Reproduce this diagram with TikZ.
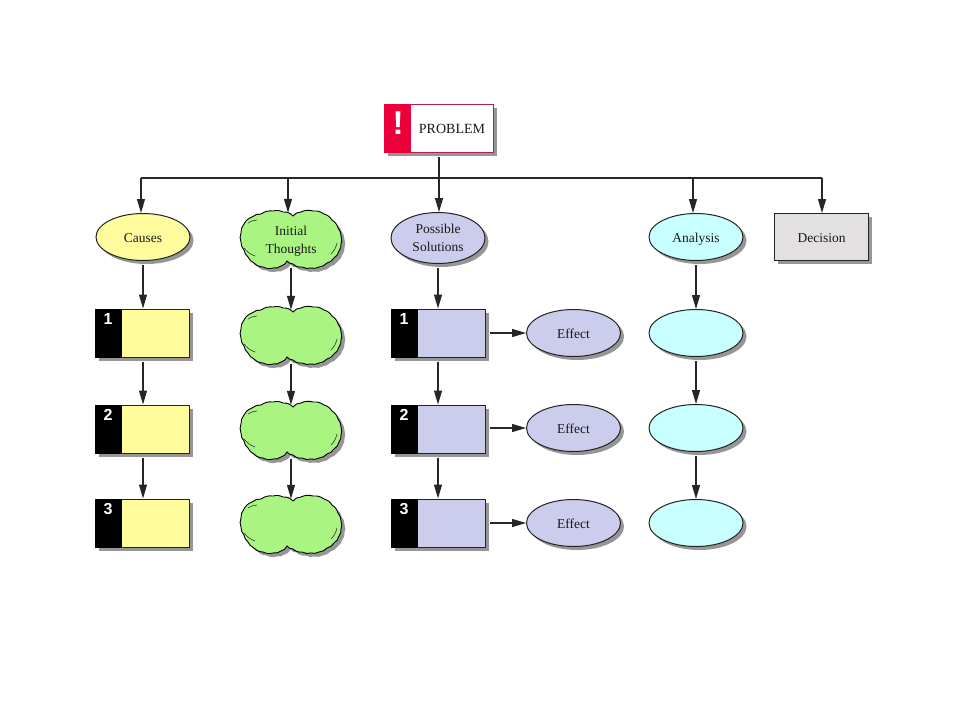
\documentclass[tikz,border=0pt]{standalone}
\usepackage{fontspec}
\setmainfont{Liberation Serif}
\setsansfont{Liberation Sans}
\usetikzlibrary{arrows.meta,shadows,shapes.geometric}
\definecolor{cyel}{RGB}{255,252,158}
\definecolor{cgrn}{RGB}{170,245,130}
\definecolor{clav}{RGB}{204,204,236}
\definecolor{ccya}{RGB}{200,255,255}
\definecolor{cgry}{RGB}{226,224,224}
\definecolor{cred}{RGB}{236,0,60}
\definecolor{cshd}{RGB}{150,150,150}
\definecolor{cedge}{RGB}{35,35,35}
\tikzset{
  shad/.style={drop shadow={shadow xshift=3.5pt,shadow yshift=-3.5pt,fill=cshd,opacity=1}},
  lbltwo/.style={font=\fontsize{13.5pt}{18pt}\selectfont,text=black!90,align=center,inner sep=0pt},
  lbl/.style={lbltwo,text height=11pt,text depth=1pt},
  ovalbase/.style={shape=ellipse,draw=cedge,line width=1pt,minimum width=94pt,minimum height=47pt,inner sep=0pt,shad},
  oval/.style={ovalbase,lbl},
  ovaltwo/.style={ovalbase,lbltwo},
  sq/.style={shape=rectangle,draw=cedge,line width=1pt,minimum width=94pt,minimum height=47pt,inner sep=0pt,shad,lbl},
  numlbl/.style={font=\sffamily\bfseries\fontsize{16pt}{16pt}\selectfont,text=white,inner sep=0pt},
  cloudbox/.style={shape=rectangle,minimum width=102pt,minimum height=58pt,inner sep=0pt},
  link/.style={draw=black!85,line width=1.2pt,-{Triangle[length=14pt,width=8pt]}},
  gaplink/.style={link,shorten <=4pt},
  bar/.style={draw=black!85,line width=1.2pt},
}
\newcommand{\cloudoutline}{(2,-23) to[bend left=25] (10,-27) to[bend left=20] (22,-28) to[bend left=20] (33,-25) to[bend left=20] (41,-19) to[bend left=20] (47,-11) to[bend left=20] (50,-3) to[bend left=20] (50,5) to[bend left=20] (48,12) to[bend left=20] (43,19) to[bend left=20] (36,24) to[bend left=20] (28,28) to[bend left=20] (20,29) to[bend left=20] (11,28) to[bend left=25] (2,25) to[bend left=25] (-4,22) to[bend left=25] (-10,27) to[bend left=20] (-18,29) to[bend left=20] (-28,28) to[bend left=20] (-37,24) to[bend left=20] (-43,18) to[bend left=20] (-47,11) to[bend left=20] (-50,3) to[bend left=20] (-50,-6) to[bend left=20] (-47,-15) to[bend left=20] (-39,-22) to[bend left=20] (-30,-25) to[bend left=20] (-18,-28) to[bend left=20] (-8,-27) to[bend left=25] (2,-23) -- cycle}
\newcommand{\cloudat}[3]{%
  \fill[cshd,shift={(#2+3.5,#3+3.5)}] \cloudoutline;
  \draw[fill=cgrn,draw=black,line width=.9pt,shift={(#2,#3)}] \cloudoutline;
  \draw[black!80,line width=.6pt,shift={(#2,#3)}] (-43,-16) to[bend left=15] (-34,-19) (-47,9) to[bend right=15] (-36,17) (46,4) to[bend left=15] (40,15);
  \node[cloudbox] (#1) at (#2,#3) {};
}
\newcommand{\numbox}[5]{%
  \node[sq,fill=#4,minimum height=48pt] (#1) at (#2,#3) {};
  \fill[black] (#1.north west) rectangle ([xshift=27pt]#1.south west);
  \node[numlbl] (#1n) at ([xshift=13pt,yshift=-10.5pt]#1.north west) {#5};
}
\begin{document}
\begin{tikzpicture}[x=1pt,y=-1pt]
\useasboundingbox (0,0) rectangle (960,720);
% problem
\node[shape=rectangle,draw={rgb,255:red,190;green,30;blue,70},line width=1pt,fill=white,minimum width=109pt,minimum height=48pt,inner sep=0pt,shad] (prob) at (438.5,128) {};
\fill[cred] (prob.north west) rectangle ([xshift=27pt]prob.south west);
\node[font=\sffamily\bfseries\fontsize{33pt}{33pt}\selectfont,text=white,inner sep=0pt] (bang) at (398,123) {!};
\node[lbl,font=\fontsize{14pt}{18pt}\selectfont] (probt) at (452,128) {PROBLEM};
\coordinate (bus) at (439,178);
% row 1
\node[oval,fill=cyel] (causes) at (143,237) {Causes};
\cloudat{thoughts}{291}{239}
\node[lbltwo] (thoughtst) at (291,241) {Initial\\Thoughts};
\node[ovaltwo,fill=clav,minimum height=51pt] (sol) at (438,238) {Possible\\Solutions};
\node[oval,fill=ccya] (ana) at (696,237) {Analysis};
\node[sq,fill=cgry] (dec) at (821.5,237) {Decision};
% column 1
\numbox{ca}{142.5}{333}{cyel}{1}
\numbox{cb}{142.5}{429}{cyel}{2}
\numbox{cc}{142.5}{523}{cyel}{3}
% column 2
\cloudat{ta}{291}{335}
\cloudat{tb}{291}{430}
\cloudat{tc}{291}{524}
% column 3
\numbox{sa}{438.5}{333}{clav}{1}
\numbox{sb}{438.5}{429}{clav}{2}
\numbox{sc}{438.5}{523}{clav}{3}
\node[oval,fill=clav] (ea) at (573.5,333) {Effect};
\node[oval,fill=clav] (eb) at (573.5,428) {Effect};
\node[oval,fill=clav] (ec) at (573.5,523) {Effect};
% column 4
\node[oval,fill=ccya] (aa) at (696,333) {};
\node[oval,fill=ccya] (ab) at (696,428) {};
\node[oval,fill=ccya] (ac) at (696,523) {};
% trunk
\draw[bar,shorten <=4pt] (prob.south -| bus) -- (bus);
\draw[bar] (141,178) -- (822,178);
\foreach \tgt/\xx in {causes/141,sol/439,ana/693,dec/822}
  \draw[link] (\xx,178) -- (\xx,0 |- \tgt.north);
\draw[link] (288,178) -- ([yshift=-3pt]288,0 |- thoughts.north);
% verticals
\foreach \a/\b in {causes/ca,sol/sa,ana/aa,aa/ab,ab/ac}
  \draw[gaplink] (\a.south) -- (\a.south |- \b.north);
\foreach \a/\b in {ca/cb,cb/cc}
  \draw[gaplink] ([xshift=.5pt]\a.south) -- ([xshift=.5pt]\a.south |- \b.north);
\foreach \a/\b in {sa/sb,sb/sc}
  \draw[gaplink] ([xshift=-.5pt]\a.south) -- ([xshift=-.5pt]\a.south |- \b.north);
\foreach \a/\b in {thoughts/ta,ta/tb,tb/tc}
  \draw[link] (\a.south) -- ([yshift=-4pt]\a.south |- \b.north);
% effects
\foreach \a/\b in {sa/ea,sb/eb,sc/ec}
  \draw[gaplink] (\b.west -| \a.east) -- (\b.west);
\end{tikzpicture}
\end{document}
